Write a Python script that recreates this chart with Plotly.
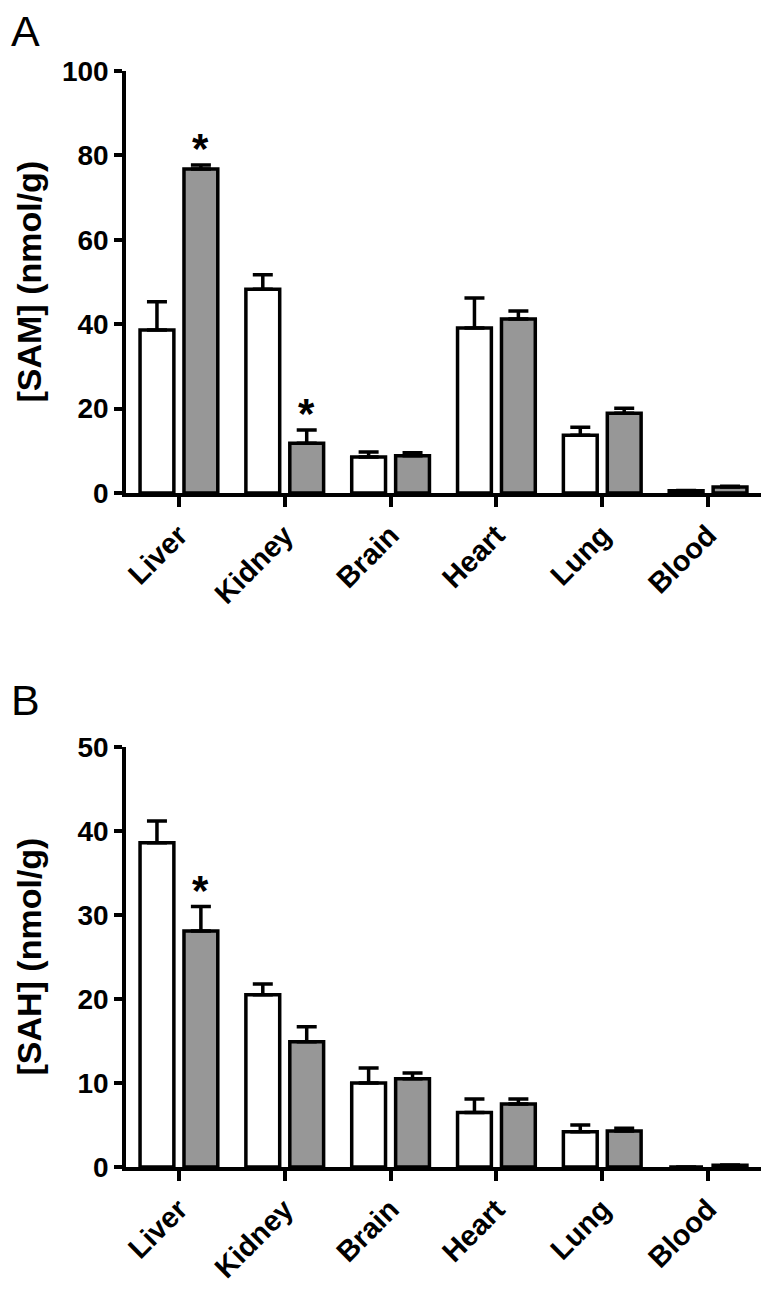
import plotly.graph_objects as go
from plotly.subplots import make_subplots

tissues = ["Liver", "Kidney", "Brain", "Heart", "Lung", "Blood"]

# panel A: SAM (nmol/g)
sam_ctrl = [38.6, 48.3, 8.5, 39.1, 13.7, 0.5]
sam_ctrl_err = [6.7, 3.4, 1.2, 7.1, 1.9, 0.1]
sam_trt = [76.8, 11.8, 8.8, 41.2, 18.9, 1.4]
sam_trt_err = [0.9, 3.1, 0.7, 1.9, 1.2, 0.2]

# panel B: SAH (nmol/g)
sah_ctrl = [38.6, 20.5, 10.0, 6.5, 4.2, 0.0]
sah_ctrl_err = [2.6, 1.3, 1.8, 1.6, 0.8, 0.0]
sah_trt = [28.1, 14.9, 10.5, 7.5, 4.3, 0.2]
sah_trt_err = [2.9, 1.8, 0.7, 0.6, 0.3, 0.05]

# significance stars (tissue index, treated bar)
stars_a = [0, 1]
stars_b = [0]

GREY = "#979797"
BARGAP = 0.17
FONT = "Liberation Sans, Arial, Helvetica, sans-serif"

fig = make_subplots(rows=2, cols=1, vertical_spacing=0.0)


def add_bars(row, ctrl, ctrl_err, trt, trt_err):
    for vals, errs, fill in [(ctrl, ctrl_err, "white"), (trt, trt_err, GREY)]:
        fig.add_trace(go.Bar(
            x=tissues, y=vals,
            marker=dict(color=fill, line=dict(color="black", width=3.5)),
            error_y=dict(type="data", symmetric=False, array=errs,
                         arrayminus=[0] * len(errs),
                         color="black", thickness=3.5, width=10),
            showlegend=False,
        ), row=row, col=1)


add_bars(1, sam_ctrl, sam_ctrl_err, sam_trt, sam_trt_err)
add_bars(2, sah_ctrl, sah_ctrl_err, sah_trt, sah_trt_err)

grey_offset = (1 - BARGAP) / 4
for ref, idx_list, vals, errs in [("", stars_a, sam_trt, sam_trt_err),
                                  ("2", stars_b, sah_trt, sah_trt_err)]:
    for i in idx_list:
        fig.add_annotation(x=i + grey_offset, y=vals[i] + errs[i],
                           xref="x" + ref, yref="y" + ref, text="<b>*</b>",
                           showarrow=False, yanchor="bottom", yshift=-9,
                           font=dict(family=FONT, size=42, color="black"))

axis_common = dict(showline=True, linecolor="black", linewidth=3.5,
                   ticks="outside", tickcolor="black", tickwidth=3.5,
                   showgrid=False, zeroline=False)

fig.update_xaxes(**axis_common, ticklen=10, tickangle=-45, range=[-0.5, 5.5],
                 tickfont=dict(family=FONT, size=29, color="black", weight="bold"))
fig.update_yaxes(**axis_common, ticklen=8,
                 tickfont=dict(family=FONT, size=28, color="black", weight="bold"))

fig.update_yaxes(range=[0, 100], dtick=20, domain=[0.615, 1.0], row=1, col=1)
fig.update_yaxes(range=[0, 50], dtick=10, domain=[0.0, 0.3832], row=2, col=1)

# y-axis titles at the same x in both panels
for yref, txt in [("y domain", "[SAM] (nmol/g)"), ("y2 domain", "[SAH] (nmol/g)")]:
    fig.add_annotation(text=txt, xref="paper", yref=yref, x=-0.1535, y=0.5,
                       xanchor="center", yanchor="middle", textangle=-90,
                       showarrow=False,
                       font=dict(family=FONT, size=34, color="black", weight="bold"))

# panel letters
for txt, ypos in [("A", 1.0365), ("B", 0.426)]:
    fig.add_annotation(text=txt, xref="paper", yref="paper", x=-0.1585, y=ypos,
                       xanchor="center", yanchor="middle", showarrow=False,
                       borderpad=0,
                       font=dict(family=FONT, size=43, color="black"))

# page body has an 8px margin, so offset the margins to land the axes in place
fig.update_layout(
    width=771, height=1294,
    margin=dict(l=118, r=18, t=63, b=135, autoexpand=False),
    barmode="group", bargap=BARGAP, bargroupgap=0.23,
    plot_bgcolor="white", paper_bgcolor="white",
)

fig.write_html("out.html")
